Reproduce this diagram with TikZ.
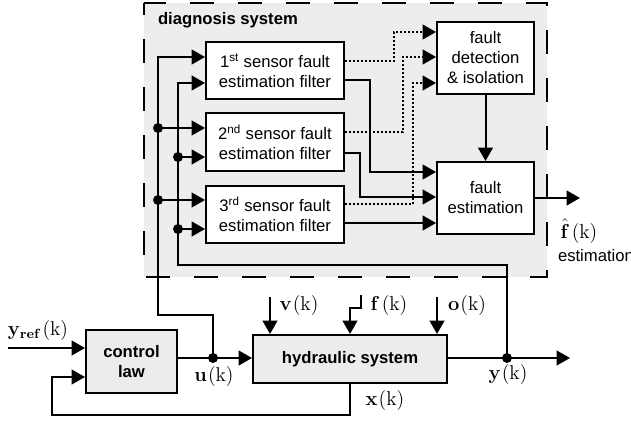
\documentclass[tikz,border=0pt]{standalone}
\usepackage[no-math]{fontspec}
\setmainfont{Liberation Sans}
\usetikzlibrary{arrows.meta}
\newcommand\dtxt{\fontsize{12.5}{15}\selectfont}
\newcommand\dbtxt{\fontsize{12.5}{15}\selectfont\bfseries}
\newcommand\dml[1]{\scalebox{1.25}{$#1$}}
\begin{document}
\begin{tikzpicture}[x=0.75pt,y=-0.75pt,
  line width=1.5pt,
  arr/.style={-{Triangle[length=10pt,width=11pt]}},
  dotl/.style={dash pattern=on 1.5pt off 1.5pt},
  blk/.style={draw, fill=white, rectangle, inner sep=0pt, align=center, font=\dtxt},
  gblk/.style={blk, fill=gray!15, font=\dbtxt},
  filt/.style={blk, minimum width=103.5pt, minimum height=43pt},
  rblk/.style={blk, minimum width=72.75pt, minimum height=54pt},
  jdot/.style={circle, fill=black, draw=none, inner sep=0pt, minimum size=7.5pt},
  lab/.style={font=\fontsize{12}{14}\selectfont, inner sep=0pt},
]
\useasboundingbox (0,0) rectangle (631,423);

% diagnosis system frame
\fill[gray!14] (144,3) rectangle (547,277);
\draw[dash pattern=on 18pt off 18pt, dash phase=9pt] (144,3) rectangle (547,277);
\node[font=\dbtxt, anchor=west, inner sep=0pt] (dtitle) at (157,20) {diagnosis system};

% blocks
\node[filt] (f1) at (275,70.5) {1\textsuperscript{st} sensor fault\\estimation filter};
\node[filt] (f2) at (275,142) {2\textsuperscript{nd} sensor fault\\estimation filter};
\node[filt] (f3) at (275,214.5) {3\textsuperscript{rd} sensor fault\\estimation filter};
\node[rblk] (fdi) at (485.5,58) {fault\\detection\\\& isolation};
\node[rblk] (fe) at (485.5,198) {fault\\estimation};
\node[gblk, minimum width=68.25pt, minimum height=47.25pt] (ctrl) at (131.5,361.5) {control\\law};
\node[gblk, minimum width=145.5pt, minimum height=36pt] (hyd) at (350,359) {hydraulic system};

% junctions
\node[jdot] (uj) at (213,358) {};
\node[jdot] (yj) at (507,358) {};
\node[jdot] (o2) at (158,128) {};
\node[jdot] (o3) at (158,200) {};
\node[jdot] (i2) at (178,157) {};
\node[jdot] (i3) at (178,229) {};
\coordinate (ob) at (158,315);
\coordinate (ib) at (178,265);

% buses to filters
\draw[arr] (uj.center) |- (ob) |- (f1.west |- 0,57);
\draw[arr] (yj.center) |- (ib) |- (f1.west |- 0,83);
\draw[arr] (o2.center) -- (f2.west |- o2);
\draw[arr] (o3.center) -- (f3.west |- o3);
\draw[arr] (i2.center) -- (f2.west |- i2);
\draw[arr] (i3.center) -- (f3.west |- i3);

% dotted residuals to FDI
\draw[arr,dotl] (f1.east |- 0,61) -| (394,32) -- (fdi.west |- 0,32);
\draw[arr,dotl] (f2.east |- 0,132) -| (403,57) -- (fdi.west |- 0,57);
\draw[arr,dotl] (f3.east |- 0,204) -| (413,83) -- (fdi.west |- 0,83);

% estimates to FE
\draw[arr] (f1.east |- 0,80) -| (370,172) -- (fe.west |- 0,172);
\draw[arr] (f2.east |- 0,153) -| (360,197) -- (fe.west |- 0,197);
\draw[arr] (f3.east |- 0,223) -- (fe.west |- 0,223);
\draw[arr] (fdi.south) -- (fe.north);
\coordinate (fout) at (580,198);
\draw[arr] (fe.east) -- (fout);

% lower loop
\coordinate (yrin) at (8,348);
\draw[arr] (yrin) -- (ctrl.west |- yrin);
\draw[arr] (ctrl.east |- uj) -- (hyd.west |- uj);
\coordinate (fb) at (52,415);
\draw[arr] (hyd.south) |- (fb) |- (ctrl.west |- 0,377);
\coordinate (vin) at (270,297);
\draw[arr] (vin) -- (hyd.north -| vin);
\coordinate (fin) at (361,295);
\draw[arr] (fin) |- (350,308) -- (hyd.north);
\coordinate (oin) at (437,297);
\draw[arr] (oin) -- (hyd.north -| oin);
\coordinate (yout) at (570,358);
\draw[arr] (hyd.east |- yj) -- (yout);

% labels
\node[lab] (lyr) at (38,331) {\dml{\mathbf{y}_{\mathbf{ref}}\mkern1mu(\mathrm{k})}};
\node[lab] (lu) at (214,377) {\dml{\mathbf{u}\mkern1mu(\mathrm{k})}};
\node[lab] (lv) at (299,306) {\dml{\mathbf{v}\mkern1mu(\mathrm{k})}};
\node[lab] (lf) at (389,306) {\dml{\mathbf{f}\mkern2mu(\mathrm{k})}};
\node[lab] (lo) at (467,306) {\dml{\mathbf{o}\mkern1mu(\mathrm{k})}};
\node[lab] (ly) at (508,375) {\dml{\mathbf{y}\mkern1mu(\mathrm{k})}};
\node[lab] (lx) at (385,401) {\dml{\mathbf{x}\mkern1mu(\mathrm{k})}};
\node[lab] (lfh) at (579,231) {\dml{\hat{\mathbf{f}}\mkern2mu(\mathrm{k})}};
\node[font=\dtxt, anchor=west, inner sep=0pt] (lest) at (557,256) {estimation};
\end{tikzpicture}
\end{document}
